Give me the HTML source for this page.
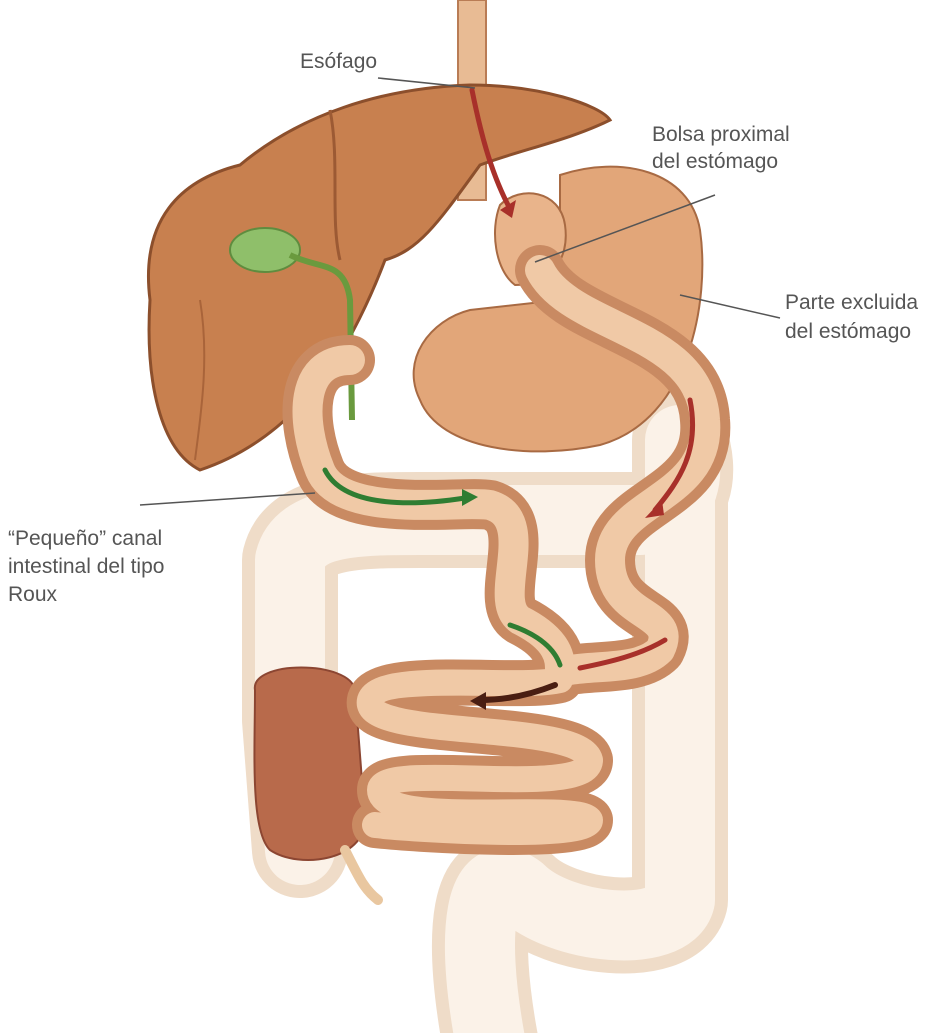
<!DOCTYPE html>
<html><head><meta charset="utf-8"><style>
html,body{margin:0;padding:0;background:#fff;}
svg{display:block}
text{font-family:"Liberation Sans",sans-serif;font-size:21px;fill:#555;}
</style></head><body>
<svg width="952" height="1033" viewBox="0 0 952 1033" xmlns="http://www.w3.org/2000/svg">
<!-- colon -->
<g fill="none" stroke-linecap="round" stroke-linejoin="round">
<path d="M300,850 L290,720 L290,560 C300,520 360,520 420,520 L640,520 C690,510 690,470 680,440 L680,900 C670,940 560,930 520,890 C480,860 470,930 490,1040" stroke="#efdcc8" stroke-width="96"/>
<path d="M300,850 L290,720 L290,560 C300,520 360,520 420,520 L640,520 C690,510 690,470 680,440 L680,900 C670,940 560,930 520,890 C480,860 470,930 490,1040" stroke="#fbf2e8" stroke-width="70"/>
</g>
<!-- cecum -->
<path d="M255,690 C250,660 350,660 355,690 L365,820 C365,860 300,870 270,850 C250,830 255,750 255,690 Z" fill="#b86a4b" stroke="#8c4632" stroke-width="2"/>
<path d="M345,850 C360,880 365,890 378,900" stroke="#e9c7a0" stroke-width="10" fill="none" stroke-linecap="round"/>
<!-- esophagus -->
<rect x="458" y="0" width="28" height="200" fill="#e8bb94" stroke="#b97c55" stroke-width="2"/>
<!-- liver -->
<path d="M150,300 C140,220 180,180 240,165 C300,115 380,88 470,85 C540,85 600,105 610,120 C570,140 520,150 480,165 C440,220 420,250 385,260 C370,300 350,340 330,370 C300,410 260,450 200,470 C160,450 145,380 150,300 Z" fill="#c8804f" stroke="#8c4f2c" stroke-width="3"/>
<path d="M330,110 C340,160 330,220 340,260" stroke="#9c5a34" stroke-width="3" fill="none"/>
<path d="M200,300 C210,360 200,420 195,460" stroke="#a9643a" stroke-width="2" fill="none"/>
<!-- gallbladder -->
<ellipse cx="265" cy="250" rx="35" ry="22" fill="#8fbf6a" stroke="#5f8c3f" stroke-width="2"/>
<path d="M290,255 C320,270 345,260 350,300 L352,420" stroke="#6a9a3e" stroke-width="6" fill="none"/>
<!-- stomach excluded -->
<path d="M560,175 C620,155 690,170 700,230 C710,300 690,420 600,445 C530,460 440,450 420,400 C400,360 430,320 470,310 L560,300 Z" fill="#e2a679" stroke="#a86a43" stroke-width="2"/>
<!-- pouch -->
<path d="M500,205 C520,185 560,190 565,225 C570,260 550,285 515,285 C495,270 490,230 500,205 Z" fill="#e9b48b" stroke="#a86a43" stroke-width="2"/>
<!-- small intestine -->
<g fill="none" stroke-linecap="round" stroke-linejoin="round">
<path d="M540,270 C570,330 700,330 705,420 C712,500 610,500 610,560 C610,620 680,610 660,650 C640,670 600,665 570,670" stroke="#c98a62" stroke-width="50"/>
<path d="M350,360 C300,360 300,420 320,470 C340,520 460,500 490,505 C540,520 490,600 520,620 C560,640 560,660 560,670" stroke="#c98a62" stroke-width="50"/>
<path d="M560,680 C520,690 380,670 370,700 C360,740 580,720 590,760 C590,800 380,760 380,790 C380,830 580,800 590,820 C590,840 420,830 375,825" stroke="#c98a62" stroke-width="46"/>
<path d="M540,270 C570,330 700,330 705,420 C712,500 610,500 610,560 C610,620 680,610 660,650 C640,670 600,665 570,670" stroke="#f0c9a6" stroke-width="30"/>
<path d="M350,360 C300,360 300,420 320,470 C340,520 460,500 490,505 C540,520 490,600 520,620 C560,640 560,660 560,670" stroke="#f0c9a6" stroke-width="30"/>
<path d="M560,680 C520,690 380,670 370,700 C360,740 580,720 590,760 C590,800 380,760 380,790 C380,830 580,800 590,820 C590,840 420,830 375,825" stroke="#f0c9a6" stroke-width="26"/>
<!-- arrows -->
<path d="M472,90 C480,130 490,170 508,205" stroke="#a8302a" stroke-width="5"/>
<path d="M690,400 C700,450 680,480 655,510" stroke="#a8302a" stroke-width="5"/>
<path d="M665,640 C640,655 610,662 580,668" stroke="#a8302a" stroke-width="5"/>
<path d="M325,470 C345,510 420,505 465,498" stroke="#2f7d32" stroke-width="5"/>
<path d="M510,625 C540,635 555,650 560,665" stroke="#2f7d32" stroke-width="5"/>
<path d="M555,685 C530,695 505,700 480,700" stroke="#4a1e12" stroke-width="6"/>
</g>
<polygon points="500,210 516,200 512,218" fill="#a8302a"/>
<polygon points="645,518 662,500 664,515" fill="#a8302a"/>
<polygon points="478,497 462,489 462,506" fill="#2f7d32"/>
<polygon points="470,701 486,692 486,710" fill="#4a1e12"/>
<!-- leader lines -->
<g stroke="#555" stroke-width="1.5">
<line x1="378" y1="78" x2="475" y2="88"/>
<line x1="715" y1="195" x2="535" y2="262"/>
<line x1="780" y1="318" x2="680" y2="295"/>
<line x1="140" y1="505" x2="315" y2="493"/>
</g>
<text x="300" y="68">Esófago</text>
<text x="652" y="141">Bolsa proximal</text>
<text x="652" y="168">del estómago</text>
<text x="785" y="309">Parte excluida</text>
<text x="785" y="338">del estómago</text>
<text x="8" y="545">“Pequeño” canal</text>
<text x="8" y="573">intestinal del tipo</text>
<text x="8" y="601">Roux</text>
</svg>
</body></html>
